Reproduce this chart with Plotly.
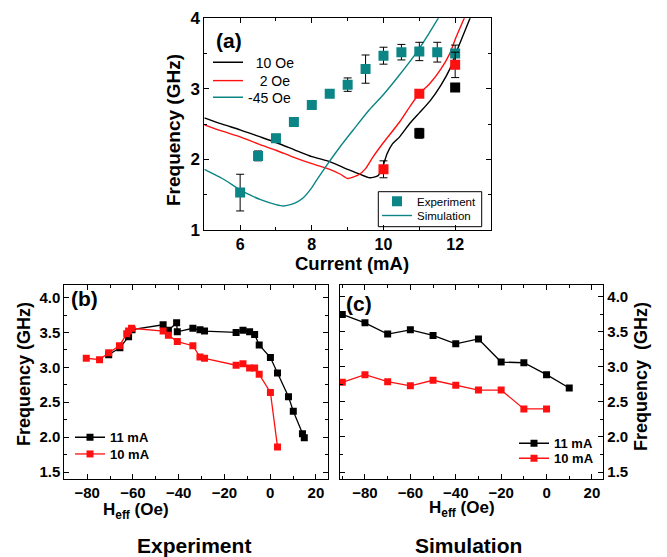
import plotly.graph_objects as go

W, H = 667, 557
TEAL = "#0b8585"
RED = "#ff1010"
FONT = "Liberation Sans"
NB = "\u00a0"

# ---------------- Panel (a) data ----------------
a_exp_cur = [6, 6.5, 7, 7.5, 8, 8.5, 9, 9.5, 10, 10.5, 11, 11.5, 12]
a_exp_teal = [1.53, 2.05, 2.30, 2.53, 2.77, 2.93, 3.06, 3.28, 3.47, 3.52, 3.53, 3.52, 3.50]
a_exp_teal_err = [0.26, 0.07, 0.055, 0.04, 0.04, 0.04, 0.095, 0.20, 0.12, 0.11, 0.13, 0.14, 0.12]

a_exp_red_cur = [10, 11, 12]
a_exp_red = [1.86, 2.93, 3.34]
a_exp_red_err = [0.12, 0.05, 0.18]

a_exp_black_cur = [11, 12]
a_exp_black = [2.37, 3.02]
a_exp_black_err = [0.07, 0.05]

sim_black_cur = [5.0, 5.5, 6.0, 6.5, 7.0, 7.5, 8.0, 8.5, 9.0, 9.3, 9.62, 9.85, 10.0, 10.1,
                 10.25, 10.45, 10.75, 11.0, 11.3, 11.6, 11.85, 12.0, 12.2, 12.43]
sim_black_f = [2.59, 2.50, 2.42, 2.33, 2.24, 2.14, 2.04, 1.97, 1.86, 1.80, 1.74, 1.77, 1.93, 2.08,
               2.22, 2.32, 2.52, 2.66, 2.83, 3.05, 3.28, 3.48, 3.73, 4.02]

sim_red_cur = [5.0, 5.5, 6.0, 6.5, 7.0, 7.5, 8.0, 8.5, 8.8, 9.0, 9.3, 9.5, 9.7, 10.0,
               10.45, 10.75, 11.0, 11.3, 11.6, 11.85, 12.0, 12.15, 12.27]
sim_red_f = [2.49, 2.40, 2.32, 2.22, 2.13, 2.03, 1.94, 1.86, 1.79, 1.73, 1.78, 1.87, 2.03, 2.24,
             2.53, 2.76, 2.93, 3.08, 3.28, 3.50, 3.70, 3.88, 4.02]

sim_teal_cur = [5.0, 5.5, 6.0, 6.3, 6.57, 7.0, 7.2, 7.4, 7.6, 7.77, 8.0, 8.14, 8.42, 8.79,
                9.16, 9.6, 10.0, 10.45, 10.9, 11.25, 11.55]
sim_teal_f = [1.86, 1.73, 1.57, 1.49, 1.43, 1.36, 1.34, 1.36, 1.40, 1.46, 1.60, 1.71, 1.92, 2.18,
              2.42, 2.70, 2.92, 3.20, 3.50, 3.77, 4.02]

# ---------------- Panel (b) data (experiment) ----------------
b_11_h = [-70.6, -65.7, -61.9, -60.4, -46.8, -44.5, -40.9, -40.6, -33.8, -30.7, -28.7,
          -14.9, -11.9, -9.0, -6.8, -4.8, 0.1, 3.2, 8.0, 10.1, 14.1, 14.9]
b_11_f = [3.18, 3.28, 3.44, 3.54, 3.61, 3.53, 3.64, 3.51, 3.56, 3.54, 3.52,
          3.50, 3.53, 3.51, 3.47, 3.32, 3.14, 2.92, 2.58, 2.37, 2.05, 1.99]
b_10_h = [-80.4, -74.6, -70.6, -65.9, -62.7, -61.9, -60.6, -46.8, -44.5, -40.6, -33.8,
          -30.7, -28.7, -14.9, -11.9, -9.0, -6.8, -4.8, 0.1, 3.2]
b_10_f = [3.13, 3.11, 3.21, 3.31, 3.48, 3.52, 3.56, 3.52, 3.46, 3.37, 3.31,
          3.15, 3.13, 3.03, 3.05, 2.99, 2.99, 2.90, 2.64, 1.86]

# ---------------- Panel (c) data (simulation) ----------------
c_11_h = [-90, -80, -70, -60, -50, -40, -30, -20, -10, 0, 10]
c_11_f = [3.75, 3.63, 3.47, 3.53, 3.45, 3.33, 3.40, 3.07, 3.06, 2.89, 2.70]
c_10_h = [-90, -80, -70, -60, -50, -40, -30, -20, -10, 0]
c_10_f = [2.78, 2.89, 2.79, 2.73, 2.81, 2.74, 2.67, 2.67, 2.40, 2.40]

fig = go.Figure()

# Panel (a) simulation lines
fig.add_trace(go.Scatter(x=sim_black_cur, y=sim_black_f, mode="lines", name=NB * 2 + "10 Oe",
                         line=dict(color="black", width=1.4, shape="spline", smoothing=0.6),
                         xaxis="x", yaxis="y", legend="legend"))
fig.add_trace(go.Scatter(x=sim_red_cur, y=sim_red_f, mode="lines", name=NB * 3 + "2 Oe",
                         line=dict(color=RED, width=1.4, shape="spline", smoothing=0.6),
                         xaxis="x", yaxis="y", legend="legend5"))
fig.add_trace(go.Scatter(x=sim_teal_cur, y=sim_teal_f, mode="lines", name="-45 Oe",
                         line=dict(color=TEAL, width=1.4, shape="spline", smoothing=0.6),
                         xaxis="x", yaxis="y", legend="legend6"))

# Panel (a) experiment markers
err_style = dict(type="data", color="black", thickness=1, width=4)
fig.add_trace(go.Scatter(x=a_exp_cur, y=a_exp_teal, mode="markers", name="Experiment",
                         marker=dict(symbol="square", size=10, color=TEAL, line=dict(width=0)),
                         error_y=dict(array=a_exp_teal_err, **err_style),
                         xaxis="x", yaxis="y", legend="legend2"))
fig.add_trace(go.Scatter(x=[None], y=[None], mode="lines", name="Simulation",
                         line=dict(color=TEAL, width=1.4),
                         xaxis="x", yaxis="y", legend="legend7"))
fig.add_trace(go.Scatter(x=a_exp_red_cur, y=a_exp_red, mode="markers", showlegend=False,
                         marker=dict(symbol="square", size=10, color=RED, line=dict(width=0)),
                         error_y=dict(array=a_exp_red_err, **err_style),
                         xaxis="x", yaxis="y"))
fig.add_trace(go.Scatter(x=a_exp_black_cur, y=a_exp_black, mode="markers", showlegend=False,
                         marker=dict(symbol="square", size=10, color="black", line=dict(width=0)),
                         error_y=dict(array=a_exp_black_err, **err_style),
                         xaxis="x", yaxis="y"))

# Panel (b)
fig.add_trace(go.Scatter(x=b_11_h, y=b_11_f, mode="lines+markers", name="11 mA",
                         line=dict(color="black", width=1.3),
                         marker=dict(symbol="square", size=7, color="black"),
                         xaxis="x2", yaxis="y2", legend="legend3"))
fig.add_trace(go.Scatter(x=b_10_h, y=b_10_f, mode="lines+markers", name="10 mA",
                         line=dict(color=RED, width=1.3),
                         marker=dict(symbol="square", size=7, color=RED),
                         xaxis="x2", yaxis="y2", legend="legend8"))

# Panel (c)
fig.add_trace(go.Scatter(x=c_11_h, y=c_11_f, mode="lines+markers", name="11 mA",
                         line=dict(color="black", width=1.3),
                         marker=dict(symbol="square", size=7, color="black"),
                         xaxis="x3", yaxis="y3", legend="legend4"))
fig.add_trace(go.Scatter(x=c_10_h, y=c_10_f, mode="lines+markers", name="10 mA",
                         line=dict(color=RED, width=1.3),
                         marker=dict(symbol="square", size=7, color=RED),
                         xaxis="x3", yaxis="y3", legend="legend9"))


def ax(domain, rng, dtick, minor, size, **kw):
    d = dict(domain=domain, range=rng, dtick=dtick, tick0=0, ticks="inside", ticklen=5,
             tickwidth=1, tickcolor="black", showline=True, linecolor="black", linewidth=1,
             mirror="allticks", showgrid=False, zeroline=False, automargin=False,
             minor=dict(dtick=minor, ticks="inside", ticklen=3, tickcolor="black", showgrid=False),
             tickfont=dict(family=FONT, size=size, color="black", weight="bold"))
    d.update(kw)
    return d


def px(x):
    return x / W


def py(y):
    return 1 - y / H


def leg(x, ytop, size, bold=False):
    return dict(x=px(x), y=py(ytop), xanchor="left", yanchor="top",
                bgcolor="rgba(0,0,0,0)", borderwidth=0, tracegroupgap=0,
                font=dict(family=FONT, size=size, color="black",
                          weight="bold" if bold else "normal"))


fig.update_layout(
    width=W, height=H, margin=dict(l=0, r=0, t=0, b=0),
    paper_bgcolor="white", plot_bgcolor="rgba(0,0,0,0)",
    font=dict(family=FONT, color="black"),
    xaxis=ax([px(204.3), px(491)], [5, 13], 2, 1, 16, anchor="y", ticklabelstandoff=0),
    yaxis=ax([py(230), py(18.3)], [1, 4], 1, 0.5, 17, anchor="x"),
    xaxis2=ax([px(64.3), px(328.3)], [-90, 25.4], 20, 10, 15, anchor="y2"),
    yaxis2=ax([py(479), py(285)], [1.40, 4.18], 0.5, 0.25, 15, anchor="x2", tickformat=".1f"),
    xaxis3=ax([px(340), px(603.3)], [-91, 25], 20, 10, 15, anchor="y3"),
    yaxis3=ax([py(479), py(285)], [1.40, 4.17], 0.5, 0.25, 15, anchor="x3", side="right",
              tickformat=".1f"),
    legend=leg(208, 46.7, 14),
    legend5=leg(208, 65.0, 14),
    legend6=leg(208, 81.7, 14),
    legend2=leg(377, 186.7, 11.5),
    legend7=leg(377, 201.0, 11.5),
    legend3=leg(70, 422.3, 13, True),
    legend8=leg(70, 439.0, 13, True),
    legend4=leg(514, 428.3, 13, True),
    legend9=leg(514, 443.3, 13, True),
    showlegend=True,
    shapes=[dict(type="rect", xref="paper", yref="paper",
                 x0=px(378.3), x1=px(481.7), y0=py(226.7), y1=py(191.7),
                 line=dict(color="black", width=1), fillcolor="rgba(0,0,0,0)", layer="above")],
)


def note(text, x, y, size, angle=0, xanchor="center", bold=True):
    fig.add_annotation(text=text, x=px(x), y=py(y), xref="paper", yref="paper",
                       xanchor=xanchor, yanchor="middle", showarrow=False, textangle=angle,
                       font=dict(family=FONT, size=size, color="black",
                                 weight="bold" if bold else "normal"))


note("(a)", 214, 40, 21, xanchor="left")
note("(b)", 69, 298, 21, xanchor="left")
note("(c)", 344, 303, 21, xanchor="left")
note("Frequency (GHz)", 173, 130, 19, angle=-90)
note("Current (mA)", 352, 263, 18.5)
note("Frequency (GHz)", 24, 374, 18, angle=-90)
note("H<sub>eff</sub> (Oe)", 136, 511, 17)
note("H<sub>eff</sub> (Oe)", 462, 509, 17)
note("Frequency  (GHz)", 641, 377, 18, angle=-90)
note("Experiment", 194, 545, 21)
note("Simulation", 468, 545, 21)

fig.write_html("out.html", config={"displayModeBar": False},
               post_script="document.body.style.margin='0';document.body.style.padding='0';")
